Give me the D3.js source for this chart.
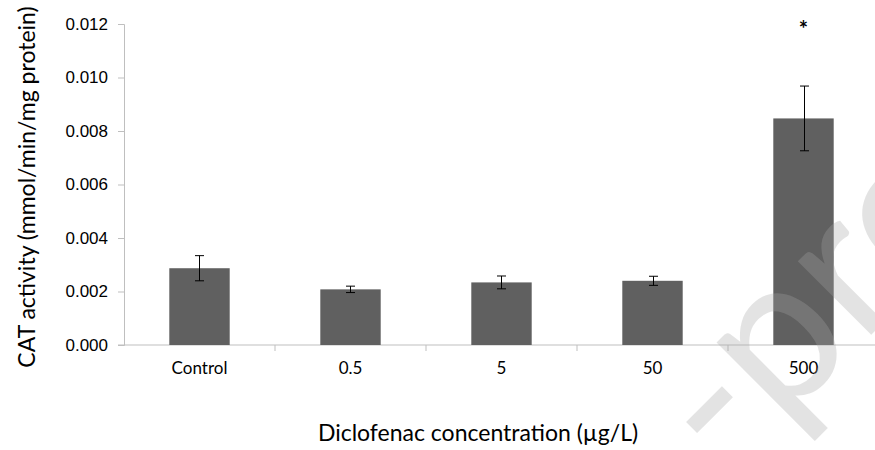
<!DOCTYPE html>
<html>
<head>
<meta charset="utf-8">
<script src="https://cdn.jsdelivr.net/npm/d3@7"></script>
<style>
  body { margin: 0; background: #fff; }
  svg { display: block; font-family: Lato, "Open Sans", sans-serif; }
</style>
</head>
<body>
<div id="chart"></div>
<script>
// data
let categories = ['Control', '0.5', '5', '50', '500'];
let means = [0.00287, 0.00208, 0.00234, 0.00240, 0.00847];
let errors = [0.00047, 0.00012, 0.00024, 0.00017, 0.00121];
let marks = ['', '', '', '', '*'];
let yTicks = [0, 0.002, 0.004, 0.006, 0.008, 0.010, 0.012];

let width = 875,
    height = 450,
    margin = { top: 24, right: -4, bottom: 105, left: 124 };

let svg = d3.select('#chart').append('svg')
    .attr('width', width)
    .attr('height', height);

let x = d3.scaleBand()
    .domain(categories)
    .range([margin.left, width - margin.right])
    .paddingInner(0.6)
    .paddingOuter(0.3);

let y = d3.scaleLinear()
    .domain([0, 0.012])
    .range([height - margin.bottom, margin.top]);

// y axis
let yAxis = svg.append('g')
    .attr('transform', 'translate(' + margin.left + ',0)')
    .call(d3.axisLeft(y).tickValues(yTicks).tickFormat(d3.format('.3f')).tickSize(6).tickPadding(10));
yAxis.select('.domain').attr('stroke', '#bfbfbf');
yAxis.selectAll('.tick line').attr('stroke', '#bfbfbf');
yAxis.selectAll('.tick text').attr('font-size', 17).attr('fill', '#000');

// x axis (ticks between categories)
let xg = svg.append('g');
xg.append('line')
    .attr('x1', margin.left - 6).attr('x2', width - margin.right)
    .attr('y1', y(0)).attr('y2', y(0))
    .attr('stroke', '#bfbfbf');
xg.selectAll('.xtick')
    .data(categories.slice(1))
    .enter()
    .append('line')
    .attr('x1', function(d) { return x(d) - x.bandwidth() * 0.75; })
    .attr('x2', function(d) { return x(d) - x.bandwidth() * 0.75; })
    .attr('y1', y(0)).attr('y2', y(0) + 6)
    .attr('stroke', '#bfbfbf');
xg.selectAll('.xlabel')
    .data(categories)
    .enter()
    .append('text')
    .attr('x', function(d) { return x(d) + x.bandwidth() / 2; })
    .attr('y', y(0) + 29)
    .attr('text-anchor', 'middle')
    .attr('font-size', 17)
    .text(function(d) { return d; });

// bars
svg.append('g').selectAll('rect')
    .data(categories)
    .enter()
    .append('rect')
    .attr('x', function(d) { return x(d); })
    .attr('width', x.bandwidth())
    .attr('y', function(d, i) { return y(means[i]); })
    .attr('height', function(d, i) { return y(0) - y(means[i]); })
    .attr('fill', '#606060');

// error bars
let eb = svg.append('g').attr('stroke', '#000').attr('stroke-width', 1);
categories.forEach(function(c, i) {
    let cx = Math.round(x(c) + x.bandwidth() / 2) + 0.5;
    let top = y(means[i] + errors[i]),
        bot = y(means[i] - errors[i]);
    eb.append('line').attr('x1', cx).attr('x2', cx).attr('y1', top).attr('y2', bot);
    eb.append('line').attr('x1', cx - 4.5).attr('x2', cx + 4.5).attr('y1', top).attr('y2', top);
    eb.append('line').attr('x1', cx - 4.5).attr('x2', cx + 4.5).attr('y1', bot).attr('y2', bot);
});

// significance marks
svg.append('g').selectAll('text')
    .data(categories)
    .enter()
    .append('text')
    .attr('x', function(d) { return x(d) + x.bandwidth() / 2; })
    .attr('y', y(0.012) + 13)
    .attr('text-anchor', 'middle')
    .attr('font-size', 22)
    .attr('font-weight', 'bold')
    .text(function(d, i) { return marks[i]; });

// axis titles
svg.append('text')
    .attr('x', 478)
    .attr('y', 441)
    .attr('text-anchor', 'middle')
    .attr('font-size', 23)
    .text('Diclofenac concentration (µg/L)');

svg.append('text')
    .attr('transform', 'translate(35,187) rotate(-90)')
    .attr('text-anchor', 'middle')
    .attr('font-size', 23)
    .text('CAT activity (mmol/min/mg protein)');

// watermark (page stamp, mostly outside the crop)
svg.append('text')
    .attr('transform', 'translate(726,480) rotate(-45)')
    .attr('font-size', 205)
    .attr('fill', '#a5a5a5')
    .attr('fill-opacity', 0.31)
    .text('-proof');
</script>
</body>
</html>
